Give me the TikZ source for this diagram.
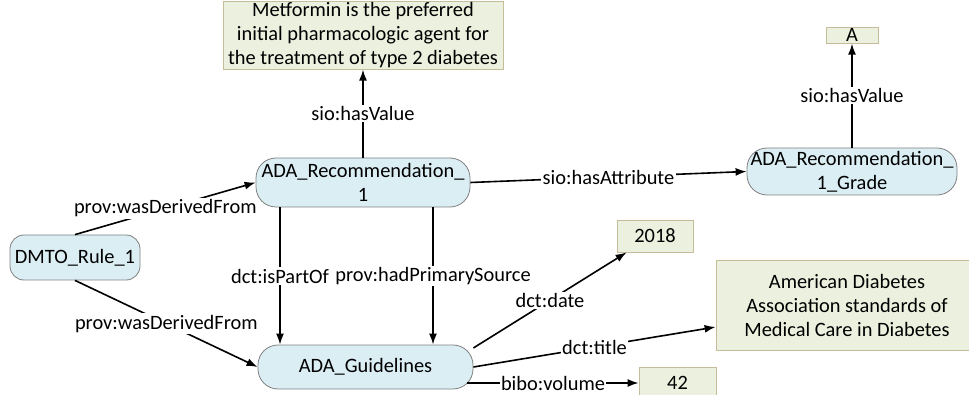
\documentclass[tikz,border=0pt]{standalone}
\usepackage{fontspec}
\setmainfont{Carlito}
\usepackage{tikz}
\usetikzlibrary{shapes,arrows,arrows.meta,positioning,calc}
\definecolor{resblue}{RGB}{219,238,244}
\definecolor{resgray}{RGB}{128,128,128}
\definecolor{litgreen}{RGB}{235,241,222}
\definecolor{littan}{RGB}{196,189,151}
\tikzset{
    resource/.style={
        rectangle,
        rounded corners=20pt,
        draw=resgray,
        fill=resblue,
        line width=0.8pt,
        inner sep=1pt,
        align=center,
        font=\fontsize{20.4}{24}\selectfont
    },
    literal/.style={
        rectangle,
        draw=littan,
        fill=litgreen,
        line width=0.8pt,
        inner sep=1pt,
        align=center,
        font=\fontsize{20.4}{24}\selectfont
    },
    relation/.style={
        -{Latex[length=11pt,width=8pt]},
        line width=1.6pt
    },
    rellabel/.style={
        midway,
        fill=white,
        inner sep=1.5pt,
        font=\fontsize{20.4}{24}\selectfont
    }
}

\begin{document}
\begin{tikzpicture}[x=1pt, y=-1pt]
\useasboundingbox (0,0) rectangle (969,395);

% resources
\node[resource, minimum width=214pt, minimum height=49pt] (rec) at (363,182.5) {ADA\_Recommendation\_\\1};
\node[resource, minimum width=210pt, minimum height=47pt] (grade) at (852,171.5) {ADA\_Recommendation\_\\1\_Grade};
\node[resource, rounded corners=14pt, minimum width=130pt, minimum height=45pt] (dmto) at (75,257.5) {DMTO\_Rule\_1};
\node[resource, minimum width=215pt, minimum height=44pt] (guide) at (365.5,367) {ADA\_Guidelines};

% literals
\node[literal, minimum width=280pt, minimum height=67pt, above=88pt of rec] (metf) {Metformin is the preferred\\initial pharmacologic agent for\\the treatment of type 2 diabetes};
\node[literal, minimum width=52pt, minimum height=16pt, inner sep=0pt, above=104pt of grade] (gradeval) {A};
\node[literal, minimum width=76pt, minimum height=32pt] (year) at (655,236) {2018};
\node[literal, minimum width=262pt, minimum height=90pt] (title) at (847,305) {American Diabetes\\Association standards of\\Medical Care in Diabetes};
\node[literal, minimum width=77pt, minimum height=32pt] (vol) at (677.5,383) {42};

% relations
\draw[relation] (rec.north) -- (metf.south) node[rellabel] {sio:hasValue};
\draw[relation] (grade.north) -- (gradeval.south) node[rellabel] {sio:hasValue};
\draw[relation] (rec.east) -- (grade.west) node[rellabel] {sio:hasAttribute};
\draw[relation] (dmto.north) -- (rec.west) node[rellabel] {prov:wasDerivedFrom};
\draw[relation] (dmto.south) -- (guide.west) node[rellabel] {prov:wasDerivedFrom};
\draw[relation] ([xshift=-83pt]rec.south) -- ([xshift=-83pt]rec.south |- guide.north) node[rellabel] {dct:isPartOf};
\draw[relation] ([xshift=70pt]rec.south) -- ([xshift=70pt]rec.south |- guide.north) node[rellabel] {prov:hadPrimarySource};
\draw[relation] (guide.10) -- ([xshift=10pt]year.south west) node[rellabel] {dct:date};
\draw[relation] (guide.east) -- ([yshift=-22pt]title.west) node[rellabel] {dct:title};
\draw[relation] ([xshift=-6pt]guide.east |- vol.west) -- (vol.west) node[rellabel] {bibo:volume};
\end{tikzpicture}
\end{document}
